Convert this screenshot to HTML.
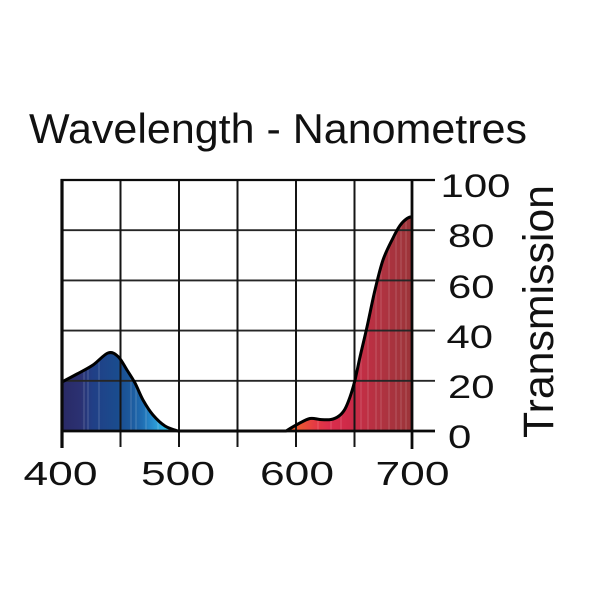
<!DOCTYPE html>
<html>
<head>
<meta charset="utf-8">
<style>
  html,body{margin:0;padding:0;background:#fff;}
  svg{display:block;}
  text{font-family:"Liberation Sans", Arial, sans-serif; fill:#111;}
</style>
</head>
<body>
<svg width="600" height="600" viewBox="0 0 600 600" xmlns="http://www.w3.org/2000/svg">
  <defs>
    <linearGradient id="gb" gradientUnits="userSpaceOnUse" x1="62" y1="0" x2="178" y2="0">
      <stop offset="0" stop-color="#2a2a66"/>
      <stop offset="0.16" stop-color="#2b3172"/>
      <stop offset="0.26" stop-color="#213f86"/>
      <stop offset="0.48" stop-color="#1a4c8e"/>
      <stop offset="0.60" stop-color="#1c5a9e"/>
      <stop offset="0.69" stop-color="#1f6db2"/>
      <stop offset="0.78" stop-color="#288ecf"/>
      <stop offset="0.86" stop-color="#33afe2"/>
      <stop offset="0.93" stop-color="#2cc2da"/>
      <stop offset="1" stop-color="#40d0a0"/>
    </linearGradient>
    <linearGradient id="gr" gradientUnits="userSpaceOnUse" x1="286" y1="0" x2="412" y2="0">
      <stop offset="0" stop-color="#ec6a2a"/>
      <stop offset="0.11" stop-color="#ea5532"/>
      <stop offset="0.23" stop-color="#e43a44"/>
      <stop offset="0.35" stop-color="#dc2d4c"/>
      <stop offset="0.51" stop-color="#cc2a48"/>
      <stop offset="0.63" stop-color="#bf2f44"/>
      <stop offset="0.79" stop-color="#ad3340"/>
      <stop offset="1" stop-color="#9b3439"/>
    </linearGradient>
    <clipPath id="cb">
      <path d="M62,431 L62,382 C64.5,380.7 71.8,376.8 77,374 C82.2,371.2 87.8,368.5 93,365 C98.2,361.5 103.8,354.4 108,353 C112.2,351.6 114.8,353.7 118,356.5 C121.2,359.3 124.2,365.6 127,370 C129.8,374.4 132.3,378 135,383 C137.7,388 140,394.7 143,400 C146,405.3 149.3,410.7 153,415 C156.7,419.3 160.8,423.3 165,426 C169.2,428.7 175.8,430.2 178,431 Z"/>
    </clipPath>
    <clipPath id="cr">
      <path d="M286,431 C288,429.8 294,426.1 298,424 C302,421.9 306.3,419.25 310,418.5 C313.7,417.75 316.5,419.3 320,419.5 C323.5,419.7 327.8,420.1 331,419.5 C334.2,418.9 336.7,417.75 339,416 C341.3,414.25 343.2,412.2 345,409 C346.8,405.8 348.3,401.8 350,397 C351.7,392.2 353.3,386.7 355,380 C356.7,373.3 358,365.8 360,357 C362,348.2 364.5,338.2 367,327 C369.5,315.8 372.3,301.2 375,290 C377.7,278.8 380,268.7 383,260 C386,251.3 390.2,243.75 393,238 C395.8,232.25 397.7,228.75 400,225.5 C402.3,222.25 405,219.9 407,218.5 C409,217.1 411.2,216.75 412,217 L412,431 Z"/>
    </clipPath>
  </defs>

  <!-- title -->
  <text x="29" y="143" font-size="42" textLength="498" lengthAdjust="spacingAndGlyphs">Wavelength - Nanometres</text>

  <!-- fills -->
  <g clip-path="url(#cb)">
    <rect x="60" y="340" width="120" height="92" fill="url(#gb)"/>
    <g stroke="#ffffff" stroke-opacity="0.18" stroke-width="1.2">
      <line x1="84" y1="340" x2="84" y2="432"/>
      <line x1="88" y1="340" x2="88" y2="432"/>
      <line x1="99" y1="340" x2="99" y2="432"/>
      <line x1="131" y1="340" x2="131" y2="432"/>
      <line x1="136" y1="340" x2="136" y2="432"/>
      <line x1="146" y1="340" x2="146" y2="432"/>
      <line x1="158" y1="340" x2="158" y2="432"/>
    </g>
  </g>
  <g clip-path="url(#cr)">
    <rect x="284" y="210" width="130" height="222" fill="url(#gr)"/>
    <g stroke="#ffffff" stroke-opacity="0.16" stroke-width="1.2">
      <line x1="318" y1="210" x2="318" y2="432"/>
      <line x1="331" y1="210" x2="331" y2="432"/>
      <line x1="341" y1="210" x2="341" y2="432"/>
      <line x1="361" y1="210" x2="361" y2="432"/>
      <line x1="368" y1="210" x2="368" y2="432"/>
      <line x1="376" y1="210" x2="376" y2="432"/>
      <line x1="381" y1="210" x2="381" y2="432"/>
      <line x1="389" y1="210" x2="389" y2="432"/>
      <line x1="396" y1="210" x2="396" y2="432"/>
      <line x1="401" y1="210" x2="401" y2="432"/>
      <line x1="406" y1="210" x2="406" y2="432"/>
    </g>
  </g>

  <!-- grid -->
  <g stroke="#262626" stroke-width="1.9" fill="none">
    <line x1="62" y1="230.2" x2="435" y2="230.2"/>
    <line x1="62" y1="280.4" x2="435" y2="280.4"/>
    <line x1="62" y1="330.6" x2="435" y2="330.6"/>
    <line x1="62" y1="380.8" x2="435" y2="380.8"/>
  </g>
  <g stroke="#151515" stroke-width="2" fill="none">
    <line x1="120.5" y1="180" x2="120.5" y2="447"/>
    <line x1="179" y1="180" x2="179" y2="447"/>
    <line x1="237.5" y1="180" x2="237.5" y2="447"/>
    <line x1="296" y1="180" x2="296" y2="447"/>
    <line x1="354.5" y1="180" x2="354.5" y2="447"/>
  </g>

  <!-- curve -->
  <path d="M62,382 C64.5,380.7 71.8,376.8 77,374 C82.2,371.2 87.8,368.5 93,365 C98.2,361.5 103.8,354.4 108,353 C112.2,351.6 114.8,353.7 118,356.5 C121.2,359.3 124.2,365.6 127,370 C129.8,374.4 132.3,378 135,383 C137.7,388 140,394.7 143,400 C146,405.3 149.3,410.7 153,415 C156.7,419.3 160.8,423.3 165,426 C169.2,428.7 175.8,430.2 178,431 L286,431 C288,429.8 294,426.1 298,424 C302,421.9 306.3,419.25 310,418.5 C313.7,417.75 316.5,419.3 320,419.5 C323.5,419.7 327.8,420.1 331,419.5 C334.2,418.9 336.7,417.75 339,416 C341.3,414.25 343.2,412.2 345,409 C346.8,405.8 348.3,401.8 350,397 C351.7,392.2 353.3,386.7 355,380 C356.7,373.3 358,365.8 360,357 C362,348.2 364.5,338.2 367,327 C369.5,315.8 372.3,301.2 375,290 C377.7,278.8 380,268.7 383,260 C386,251.3 390.2,243.75 393,238 C395.8,232.25 397.7,228.75 400,225.5 C402.3,222.25 405,219.9 407,218.5 C409,217.1 411.2,216.75 412,217" fill="none" stroke="#000" stroke-width="3" stroke-linejoin="round"/>

  <!-- frame -->
  <g stroke="#0a0a0a" fill="none">
    <line x1="62" y1="179" x2="62" y2="448" stroke-width="3.2"/>
    <line x1="412" y1="179" x2="412" y2="449" stroke-width="2.8"/>
    <line x1="60.5" y1="180" x2="435" y2="180" stroke-width="2.2"/>
    <line x1="60.5" y1="431" x2="435" y2="431" stroke-width="2.8"/>
  </g>

  <!-- right labels -->
  <g font-size="32">
    <text x="440.5" y="197" textLength="70" lengthAdjust="spacingAndGlyphs">100</text>
    <text x="448" y="247" textLength="46.5" lengthAdjust="spacingAndGlyphs">80</text>
    <text x="448" y="298" textLength="46.5" lengthAdjust="spacingAndGlyphs">60</text>
    <text x="446.5" y="348" textLength="46.5" lengthAdjust="spacingAndGlyphs">40</text>
    <text x="448" y="398" textLength="46.5" lengthAdjust="spacingAndGlyphs">20</text>
    <text x="448" y="448" textLength="23.3" lengthAdjust="spacingAndGlyphs">0</text>
  </g>

  <!-- bottom labels -->
  <g font-size="33" text-anchor="middle">
    <text x="60.5" y="485" textLength="74" lengthAdjust="spacingAndGlyphs">400</text>
    <text x="178" y="485" textLength="74" lengthAdjust="spacingAndGlyphs">500</text>
    <text x="297" y="485" textLength="74" lengthAdjust="spacingAndGlyphs">600</text>
    <text x="412.5" y="485" textLength="74" lengthAdjust="spacingAndGlyphs">700</text>
  </g>

  <!-- y axis title -->
  <text transform="translate(553,438) rotate(-90)" font-size="43" textLength="253" lengthAdjust="spacingAndGlyphs">Transmission</text>
</svg>
</body>
</html>
